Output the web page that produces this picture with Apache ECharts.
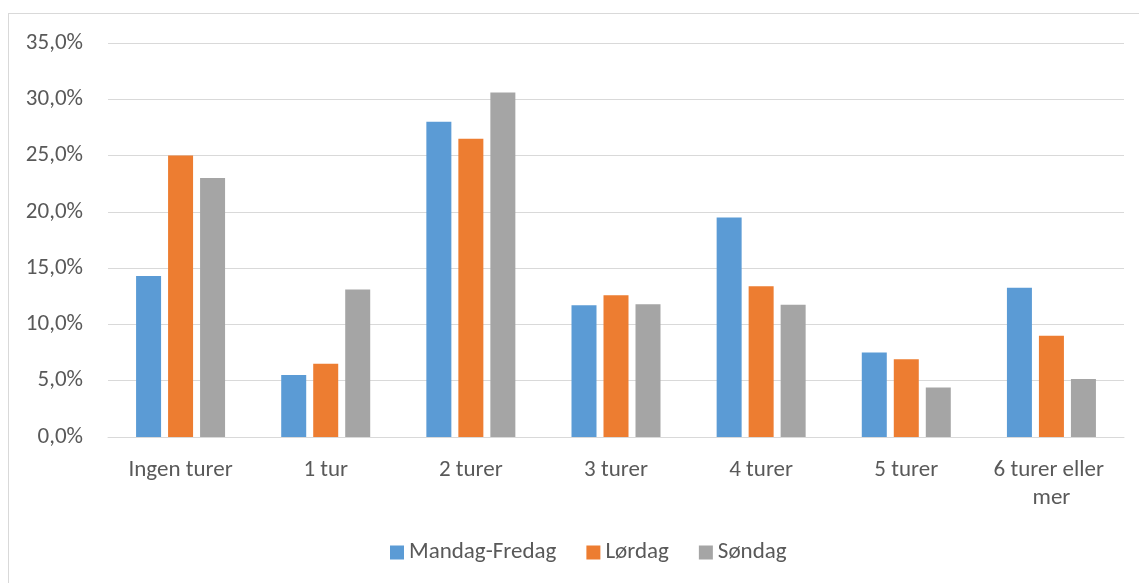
<!DOCTYPE html>
<html>
<head>
<meta charset="utf-8">
<script src="https://cdn.jsdelivr.net/npm/echarts@6/dist/echarts.min.js"></script>
<style>
  html, body { margin: 0; padding: 0; background: #fff; }
  #frame {
    position: absolute; left: 8px; top: 13px; width: 1131px; height: 570px;
    border-left: 1px solid #d9d9d9; border-top: 1px solid #d9d9d9;
  }
  #chart { position: absolute; left: 0; top: 0; width: 1139px; height: 583px; }
</style>
</head>
<body>
<div id="frame"></div>
<div id="chart"></div>
<script>
// antall turer per dag
const categories = ['Ingen turer', '1 tur', '2 turer', '3 turer', '4 turer', '5 turer', '6 turer eller mer']
const mandagFredag = [14.3, 5.5, 28.0, 11.7, 19.5, 7.5, 13.25]
const lordag = [25.0, 6.5, 26.5, 12.6, 13.4, 6.9, 9.0]
const sondag = [23.0, 13.1, 30.6, 11.8, 11.75, 4.4, 5.15]
const seriesNames = ['Mandag-Fredag', 'Lørdag', 'Søndag']
const colors = ['#5b9bd5', '#ed7d31', '#a5a5a5']

const font = 'Carlito, Calibri, "Open Sans", sans-serif'
const chart = echarts.init(document.getElementById('chart'), null, { renderer: 'canvas' })

const bar = (name, data, i) => ({
  name: name,
  type: 'bar',
  data: data,
  barWidth: 25,
  barGap: '28%',
  itemStyle: { color: colors[i] },
  emphasis: { disabled: true },
})

chart.setOption({
  animation: false,
  textStyle: { fontFamily: font },
  grid: { left: 108, right: 15, top: 43, bottom: 146 },
  legend: {
    top: 536,
    left: 385,
    itemWidth: 14,
    itemHeight: 14,
    itemGap: 30,
    icon: 'rect',
    textStyle: { fontSize: 23, color: '#595959', fontFamily: font },
    data: seriesNames,
  },
  xAxis: {
    type: 'category',
    data: categories,
    axisLine: { lineStyle: { color: '#d9d9d9', width: 1 } },
    axisTick: { show: false },
    axisLabel: {
      color: '#595959',
      fontSize: 23,
      margin: 19,
      width: 130,
      overflow: 'break',
      lineHeight: 28,
      interval: 0,
    },
  },
  yAxis: {
    type: 'value',
    min: 0,
    max: 35,
    interval: 5,
    axisLine: { show: false },
    axisTick: { show: false },
    splitLine: { lineStyle: { color: '#d9d9d9', width: 1 } },
    axisLabel: {
      color: '#595959',
      fontSize: 23,
      margin: 25,
      formatter: v => v.toFixed(1).replace('.', ',') + '%',
    },
  },
  series: [
    bar(seriesNames[0], mandagFredag, 0),
    bar(seriesNames[1], lordag, 1),
    bar(seriesNames[2], sondag, 2),
  ],
})
</script>
</body>
</html>
